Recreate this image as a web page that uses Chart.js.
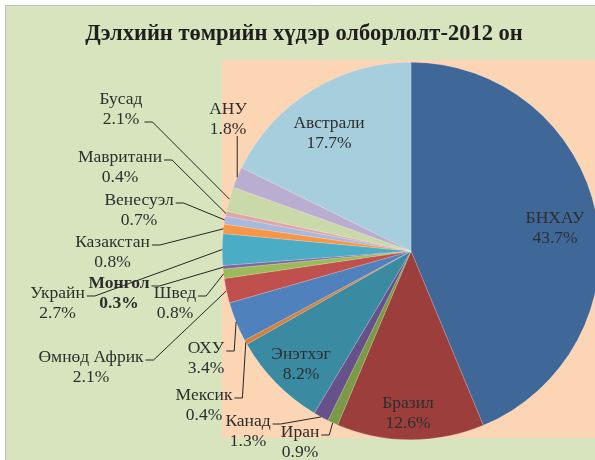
<!DOCTYPE html>
<html>
<head>
<meta charset="utf-8">
<script src="https://cdn.jsdelivr.net/npm/chart.js@4.4.1/dist/chart.umd.min.js"></script>
<style>
  html, body { margin: 0; padding: 0; overflow: hidden; background: #ffffff; }
  #wrap { width: 620px; height: 460px; position: relative; }
</style>
</head>
<body>
<div id="wrap"><canvas id="c" width="620" height="460"></canvas></div>
<script>
// ---- data ----
const chartTitle = 'Дэлхийн төмрийн хүдэр олборлолт-2012 он';
const categories = ['БНХАУ', 'Бразил', 'Иран', 'Канад', 'Энэтхэг', 'Мексик', 'ОХУ', 'Өмнөд Африк',
  'Швед', 'Монгол', 'Украйн', 'Казакстан', 'Венесуэл', 'Мавритани', 'Бусад', 'АНУ', 'Австрали'];
const shares = [43.7, 12.6, 0.9, 1.3, 8.2, 0.4, 3.4, 2.1, 0.8, 0.3, 2.7, 0.8, 0.7, 0.4, 2.1, 1.8, 17.7];
const valueLabels = shares.map(v => v.toFixed(1) + '%');

// ---- styles ----
const sliceColors = ['#3F6899', '#9B3E3C', '#7A9A46', '#67518A', '#3A8AA2', '#D5803A', '#4F81BD', '#C0504D',
  '#9BBB59', '#8064A2', '#4BACC6', '#F79646', '#A7B9DE', '#DFA8A7', '#C9D9A9', '#B9AED1', '#A6CEDD'];

// label placement (annotation layout): centre x, first-line centre y, leader side, leader line index, bold
const labelLayout = [
  {x: 555, y: 218}, {x: 408, y: 403}, {x: 300, y: 432, side: 'r'}, {x: 248, y: 421, side: 'r'},
  {x: 301, y: 354}, {x: 204, y: 395, side: 'r'}, {x: 206, y: 348, side: 'r'}, {x: 91, y: 357, side: 'r'},
  {x: 175, y: 293, side: 'r'}, {x: 119, y: 283, side: 'r', bold: true}, {x: 57.5, y: 293, side: 'r'},
  {x: 112.5, y: 242, side: 'r'}, {x: 139, y: 200, side: 'r'}, {x: 120, y: 157, side: 'r'},
  {x: 121, y: 99, side: 'r', line: 1}, {x: 228, y: 109, side: 'b'}, {x: 329, y: 123}
];

const FONT = '"Liberation Serif", "Times New Roman", serif';
const LINE_H = 20;

const backgroundPlugin = {
  id: 'bg',
  beforeDraw(chart) {
    const {ctx, width, height, chartArea} = chart;
    ctx.save();
    ctx.fillStyle = '#ffffff';
    ctx.fillRect(0, 0, width, height);
    ctx.fillStyle = '#D7E4BD';
    ctx.fillRect(5, 5, width - 5, height - 5);
    ctx.strokeStyle = '#BFBFBF';
    ctx.lineWidth = 1;
    ctx.beginPath();
    ctx.moveTo(5.5, height);
    ctx.lineTo(5.5, 5.5);
    ctx.lineTo(width, 5.5);
    ctx.stroke();
    ctx.fillStyle = '#FCD5B5';
    ctx.fillRect(chartArea.left, chartArea.top - 2, width - chartArea.left, chartArea.height);
    ctx.fillStyle = '#1E1E1E';
    ctx.font = 'bold 22.5px ' + FONT;
    ctx.textAlign = 'center';
    ctx.textBaseline = 'middle';
    ctx.fillText(chartTitle, 304, 34);
    ctx.restore();
  }
};

const labelPlugin = {
  id: 'pieLabels',
  afterDatasetsDraw(chart) {
    const ctx = chart.ctx;
    const meta = chart.getDatasetMeta(0);
    ctx.save();
    meta.data.forEach((arc, i) => {
      const L = labelLayout[i];
      const lines = [categories[i], valueLabels[i]];
      ctx.font = (L.bold ? 'bold ' : '') + '17.5px ' + FONT;
      ctx.fillStyle = '#2E2E2E';
      ctx.textAlign = 'center';
      ctx.textBaseline = 'middle';
      lines.forEach((t, k) => ctx.fillText(t, L.x, L.y + k * LINE_H));
      if (!L.side) return;
      const p = arc.getProps(['x', 'y', 'startAngle', 'endAngle', 'outerRadius'], true);
      const mid = (p.startAngle + p.endAngle) / 2;
      const tx = p.x + Math.cos(mid) * p.outerRadius;
      const ty = p.y + Math.sin(mid) * p.outerRadius;
      const w = Math.max(...lines.map(t => ctx.measureText(t).width));
      ctx.strokeStyle = '#262626';
      ctx.lineWidth = 1;
      ctx.beginPath();
      if (L.side === 'b') {
        ctx.moveTo(tx, L.y + LINE_H + 7);
        ctx.lineTo(tx, ty);
      } else {
        const sx = L.x + w / 2 + 2;
        const sy = L.y + (L.line || 0) * LINE_H + 3;
        ctx.moveTo(sx, sy);
        ctx.lineTo(sx + 8, sy);
        ctx.lineTo(tx, ty);
      }
      ctx.stroke();
    });
    ctx.restore();
  }
};

new Chart(document.getElementById('c'), {
  type: 'pie',
  data: {
    labels: categories,
    datasets: [{
      data: shares,
      backgroundColor: sliceColors,
      borderColor: 'rgba(255,255,255,0.35)',
      borderWidth: 0.5
    }]
  },
  options: {
    responsive: false,
    animation: false,
    layout: { padding: { left: 222, top: 62, right: 20, bottom: 20 } },
    plugins: {
      legend: { display: false },
      tooltip: { enabled: false },
      title: { display: false }
    }
  },
  plugins: [backgroundPlugin, labelPlugin]
});
</script>
</body>
</html>
